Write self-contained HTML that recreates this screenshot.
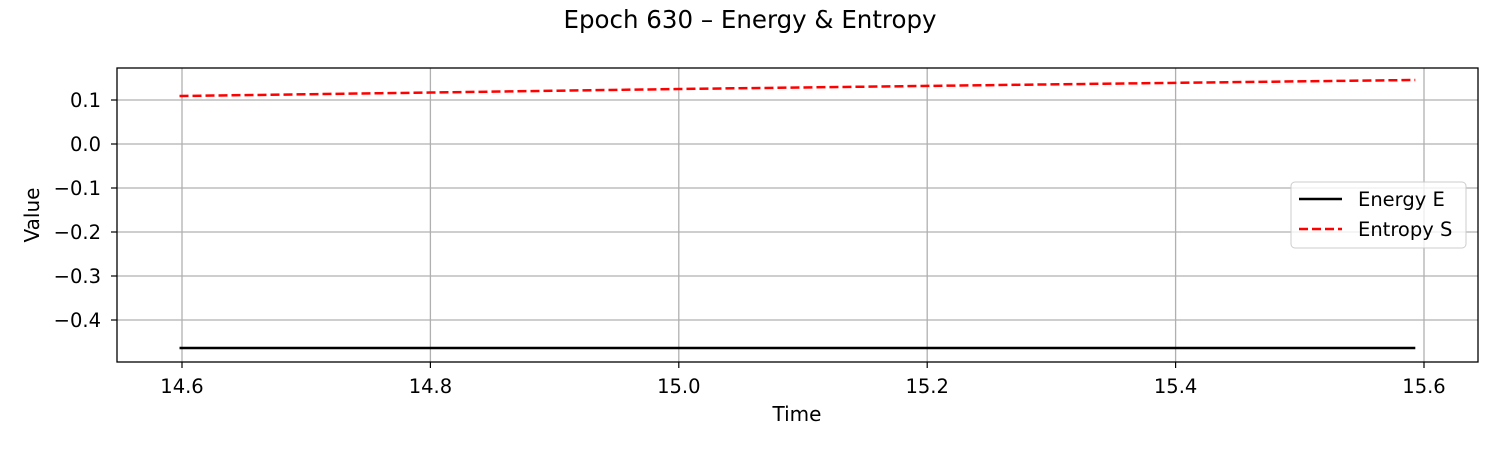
<!DOCTYPE html>
<html><head><meta charset="utf-8"><style>
body{margin:0;background:#fff}
svg{display:block;font-family:"DejaVu Sans","Liberation Sans",sans-serif}
</style></head><body>
<svg id="chart" width="1500" height="450" viewBox="0 0 1500 450">
<text x="750" y="28" text-anchor="middle" font-size="24.5" fill="#000">Epoch 630 – Energy &amp; Entropy</text>
<g id="grid"></g>
<g id="series"></g>
<rect x="117" y="68" width="1361" height="294" fill="none" stroke="#000" stroke-width="1.3"/>
<g id="ticks"></g>
<text x="797" y="421" text-anchor="middle" font-size="20">Time</text>
<text transform="translate(39,215) rotate(-90)" text-anchor="middle" font-size="20">Value</text>
<g>
<rect x="1291" y="182" width="175" height="66" rx="4" fill="#fff" fill-opacity="0.8" stroke="#ccc"/>
<line x1="1299" y1="199" x2="1342" y2="199" stroke="#000" stroke-width="2.5"/>
<text x="1358" y="206" font-size="19.5">Energy E</text>
<line x1="1299" y1="229" x2="1342" y2="229" stroke="#f00" stroke-width="2.5" stroke-dasharray="9,4"/>
<text x="1358" y="236" font-size="19.5">Entropy S</text>
</g>
</svg>
<script>
const xTicks=[14.6,14.8,15.0,15.2,15.4,15.6];
const xTickLabels=["14.6","14.8","15.0","15.2","15.4","15.6"];
const yTicks=[0.1,0.0,-0.1,-0.2,-0.3,-0.4];
const yTickLabels=["0.1","0.0","−0.1","−0.2","−0.3","−0.4"];
const timeValues=[14.598,14.8,15.0,15.2,15.4,15.593];
const energyValues=[-0.4636,-0.4636,-0.4636,-0.4636,-0.4636,-0.4636];
const entropyValues=[0.109,0.117,0.125,0.132,0.139,0.1455];
const NS="http://www.w3.org/2000/svg";
const X=v=>182+(v-14.6)*1242;
const Y=v=>144-v*440;
function mk(tag,attrs,parent){const e=document.createElementNS(NS,tag);for(const k in attrs)e.setAttribute(k,attrs[k]);parent.appendChild(e);return e;}
const grid=document.getElementById('grid'),ticks=document.getElementById('ticks'),series=document.getElementById('series');
xTicks.forEach((t,i)=>{
 const g=mk('line',{x1:X(t),x2:X(t),y1:68,y2:362,stroke:'#b0b0b0','stroke-width':1.3},grid);
 
 
 const tk=mk('line',{x1:X(t),x2:X(t),y1:362,y2:368,stroke:'#000','stroke-width':1.2},ticks);
 
 
 const tx=mk('text',{x:X(t),y:393,'text-anchor':'middle','font-size':19.5},ticks);
 tx.textContent=xTickLabels[i];
 
 
});
yTicks.forEach((t,i)=>{
 const g=mk('line',{x1:117,x2:1478,y1:Y(t),y2:Y(t),stroke:'#b0b0b0','stroke-width':1.3},grid);
 
 
 const tk=mk('line',{x1:111,x2:117,y1:Y(t),y2:Y(t),stroke:'#000','stroke-width':1.2},ticks);
 
 
 const tx=mk('text',{x:101,y:Y(t)+7,'text-anchor':'end','font-size':19.5},ticks);
 tx.textContent=yTickLabels[i];
 
 
});
const pts=vals=>timeValues.map((t,i)=>X(t)+','+Y(vals[i])).join(' ');
const e=mk('polyline',{points:pts(energyValues),fill:'none',stroke:'#000','stroke-width':2.5},series);


const s=mk('polyline',{points:pts(entropyValues),fill:'none',stroke:'#f00','stroke-width':2.5,'stroke-dasharray':'9,4'},series);


</script>
</body></html>
